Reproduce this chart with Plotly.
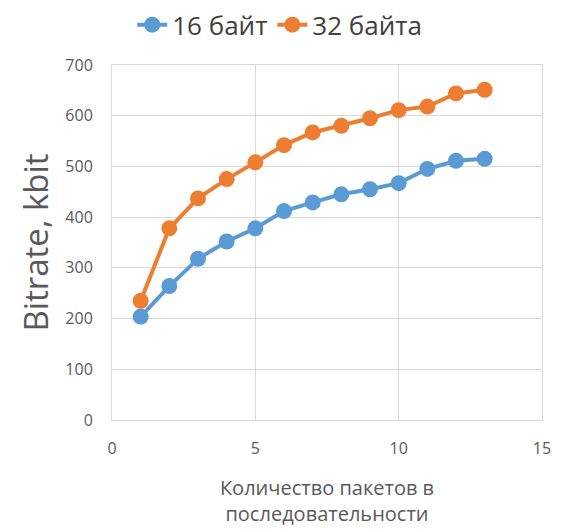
import plotly.graph_objects as go

packets = [1, 2, 3, 4, 5, 6, 7, 8, 9, 10, 11, 12, 13]
bytes16 = [204, 264, 318, 352, 378, 412, 429, 445, 455, 467, 495, 511, 515]
bytes32 = [235, 378, 437, 475, 508, 542, 567, 580, 595, 611, 618, 644, 651]
series_names = ["16 байт", "32 байта"]
colors = ["#5b9bd5", "#ed7d31"]

fig = go.Figure()
for name, vals, c in zip(series_names, [bytes16, bytes32], colors):
    fig.add_trace(go.Scatter(x=packets, y=vals, mode="lines+markers", name=name,
                             line=dict(color=c, width=4),
                             marker=dict(color=c, size=16)))

font_family = "Open Sans, Liberation Sans, sans-serif"
fig.update_layout(
    width=553, height=524,
    margin=dict(l=104, r=19, t=57, b=112),
    paper_bgcolor="white", plot_bgcolor="white",
    font=dict(family=font_family, color="#595959"),
    showlegend=True,
    legend=dict(orientation="h", x=0.39, xanchor="center", y=0.968, yanchor="middle",
                yref="container", font=dict(size=26, color="#404040"),
                itemwidth=30, tracegroupgap=0),
    xaxis=dict(range=[0, 15], dtick=5, tick0=0, showgrid=True, gridcolor="#d9d9d9",
               showline=True, linecolor="#d9d9d9", mirror=True, zeroline=False,
               tickfont=dict(size=16), ticks="", automargin=False,
               ticklabelstandoff=14,
               title=dict(text="Количество пакетов в<br>последовательности",
                          font=dict(size=20, color="#595959"), standoff=22)),
    yaxis=dict(range=[0, 700], dtick=100, showgrid=True, gridcolor="#d9d9d9",
               showline=True, linecolor="#d9d9d9", mirror=True, zeroline=False,
               tickfont=dict(size=16), ticks="", automargin=False,
               ticklabelstandoff=15,
               title=dict(text="Bitrate, kbit", font=dict(size=33, color="#595959"),
                          standoff=6)),
)
fig.write_html("out.html")
